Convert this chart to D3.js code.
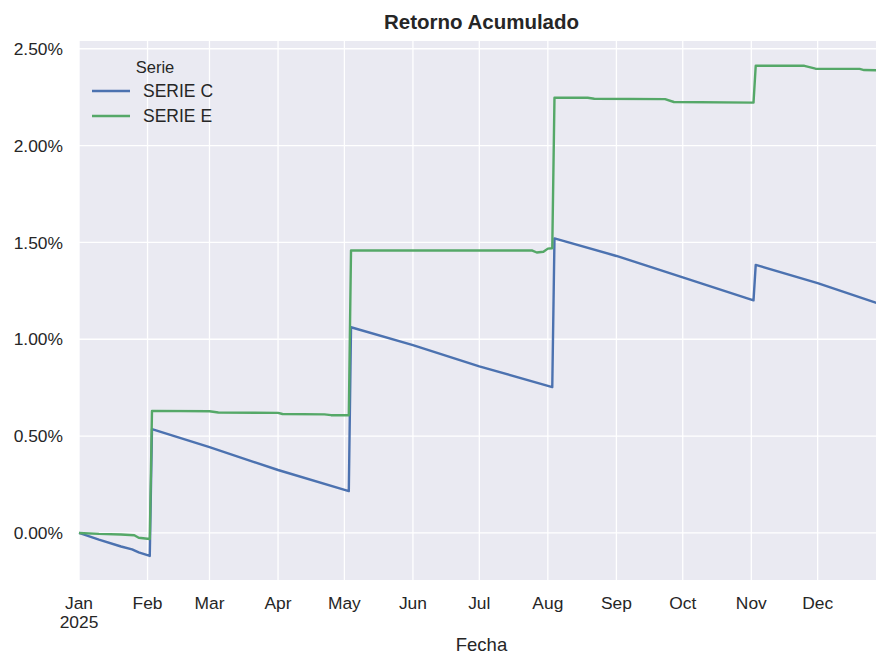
<!DOCTYPE html>
<html>
<head>
<meta charset="utf-8">
<script src="https://cdn.jsdelivr.net/npm/d3@7"></script>
<style>
  body { margin: 0; background: #fff; }
  text { font-family: "Liberation Sans", Arial, sans-serif; fill: #262626; }
</style>
</head>
<body>
<svg width="876" height="654"></svg>
<script>
// readings (percent)
const fechasC = ["2025-01-01","2025-01-10","2025-01-20","2025-01-25","2025-01-28","2025-02-02",
  "2025-02-03","2025-03-01","2025-04-01","2025-05-03",
  "2025-05-04","2025-06-01","2025-07-01","2025-08-03",
  "2025-08-04","2025-09-01","2025-10-01","2025-11-02",
  "2025-11-03","2025-12-01","2025-12-31"];
const serieC = [0, -0.035, -0.07, -0.085, -0.10, -0.119,
  0.536, 0.443, 0.325, 0.216,
  1.062, 0.97, 0.86, 0.753,
  1.521, 1.43, 1.32, 1.201,
  1.384, 1.29, 1.175];

const fechasE = ["2025-01-01","2025-01-10","2025-01-20","2025-01-26","2025-01-28","2025-02-02",
  "2025-02-03","2025-03-01","2025-03-05","2025-04-01","2025-04-03","2025-04-22","2025-04-25","2025-05-03",
  "2025-05-04","2025-07-25","2025-07-27","2025-07-30","2025-08-01","2025-08-03",
  "2025-08-04","2025-08-19","2025-08-22","2025-09-23","2025-09-27","2025-11-02",
  "2025-11-03","2025-11-25","2025-11-30","2025-12-20","2025-12-22","2025-12-31"];
const serieE = [0, -0.005, -0.008, -0.012, -0.025, -0.031,
  0.630, 0.628, 0.622, 0.620, 0.614, 0.612, 0.608, 0.608,
  1.459, 1.458, 1.448, 1.452, 1.468, 1.470,
  2.247, 2.247, 2.242, 2.240, 2.225, 2.222,
  2.412, 2.412, 2.397, 2.396, 2.390, 2.388];

const nombres = ["SERIE C", "SERIE E"];
const colores = ["#4C72B0", "#55A868"];
const yTicks = [0, 0.5, 1.0, 1.5, 2.0, 2.5];

const parse = d3.timeParse("%Y-%m-%d");
const series = [
  fechasC.map((f, i) => ({ fecha: parse(f), v: serieC[i] })),
  fechasE.map((f, i) => ({ fecha: parse(f), v: serieE[i] }))
];

const svg = d3.select("svg");
const pLeft = 79, pRight = 884, pTop = 41, pBottom = 580;

const x = d3.scaleTime()
  .domain([parse("2025-01-01"), parse("2025-12-31")])
  .range([pLeft, pRight]);
const y = d3.scaleLinear()
  .domain([-0.243, 2.540])
  .range([pBottom, pTop]);

svg.append("rect")
  .attr("x", pLeft).attr("y", pTop)
  .attr("width", pRight - pLeft).attr("height", pBottom - pTop)
  .attr("fill", "#EAEAF2");

const g = svg.append("g");

// grid
const meses = d3.timeMonth.range(parse("2025-01-01"), parse("2026-01-01"));
g.selectAll(".gx").data(meses).enter().append("line")
  .attr("x1", d => x(d)).attr("x2", d => x(d))
  .attr("y1", pTop).attr("y2", pBottom)
  .attr("stroke", "#fff").attr("stroke-width", 1.3);
g.selectAll(".gy").data(yTicks).enter().append("line")
  .attr("x1", pLeft).attr("x2", pRight)
  .attr("y1", d => y(d)).attr("y2", d => y(d))
  .attr("stroke", "#fff").attr("stroke-width", 1.3);

// lines
const line = d3.line().x(d => x(d.fecha)).y(d => y(d.v));
series.forEach((s, i) => {
  g.append("path").datum(s)
    .attr("d", line)
    .attr("fill", "none")
    .attr("stroke", colores[i])
    .attr("stroke-width", 2.4)
    .attr("stroke-linejoin", "round");
});

// y labels
svg.selectAll(".yl").data(yTicks).enter().append("text")
  .attr("x", 63).attr("y", d => y(d))
  .attr("dy", "0.35em")
  .attr("text-anchor", "end")
  .style("font-size", "17.4px")
  .text(d => d3.format(".2f")(d) + "%");

// x labels
const fmtMes = d3.timeFormat("%b");
svg.selectAll(".xl").data(meses).enter().append("text")
  .attr("x", d => x(d)).attr("y", 609)
  .attr("text-anchor", "middle")
  .style("font-size", "17.4px")
  .text(d => fmtMes(d));
svg.append("text")
  .attr("x", x(meses[0])).attr("y", 628)
  .attr("text-anchor", "middle")
  .style("font-size", "17.4px")
  .text("2025");

svg.append("text")
  .attr("x", (pLeft + pRight) / 2).attr("y", 651)
  .attr("text-anchor", "middle")
  .style("font-size", "18.5px")
  .text("Fecha");

svg.append("text")
  .attr("x", (pLeft + pRight) / 2).attr("y", 29)
  .attr("text-anchor", "middle")
  .style("font-size", "20.5px")
  .style("font-weight", "bold")
  .text("Retorno Acumulado");

// legend
const leg = svg.append("g");
leg.append("text")
  .attr("x", 155).attr("y", 73)
  .attr("text-anchor", "middle")
  .style("font-size", "16.5px")
  .text("Serie");
nombres.forEach((n, i) => {
  const yy = 91 + i * 25;
  leg.append("line")
    .attr("x1", 92).attr("x2", 130)
    .attr("y1", yy).attr("y2", yy)
    .attr("stroke", colores[i]).attr("stroke-width", 2.4);
  leg.append("text")
    .attr("x", 143).attr("y", yy).attr("dy", "0.35em")
    .style("font-size", "17.5px")
    .text(n);
});
</script>
</body>
</html>
